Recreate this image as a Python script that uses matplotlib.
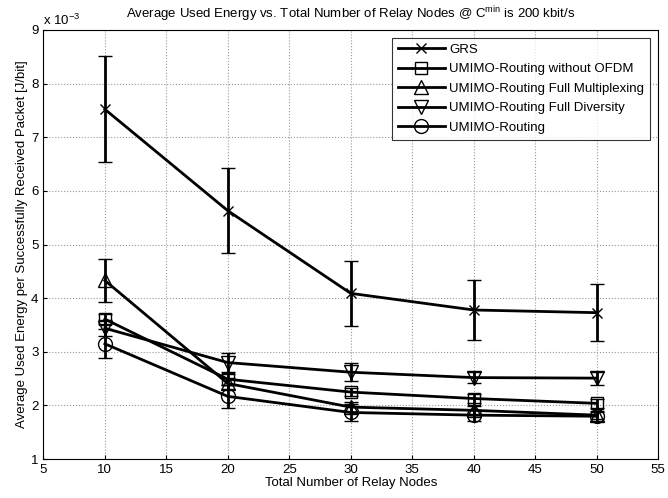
import numpy as np
import matplotlib
matplotlib.use("Agg")
import matplotlib.pyplot as plt

plt.rcParams['font.family'] = ['Liberation Sans', 'DejaVu Sans']
plt.rcParams['mathtext.fontset'] = 'custom'
plt.rcParams['mathtext.rm'] = 'Liberation Sans'
plt.rcParams['mathtext.it'] = 'Liberation Sans'

# Data (energy in units of 1e-3 J/bit)
relay_nodes = [10, 20, 30, 40, 50]

grs = [7.52, 5.63, 4.09, 3.78, 3.73]
grs_err = [0.99, 0.79, 0.60, 0.56, 0.53]

no_ofdm = [3.61, 2.49, 2.25, 2.13, 2.04]
no_ofdm_err = [0.10, 0.10, 0.08, 0.08, 0.08]

full_mux = [4.33, 2.41, 1.97, 1.91, 1.82]
full_mux_err = [0.40, 0.10, 0.10, 0.08, 0.08]

full_div = [3.44, 2.80, 2.62, 2.52, 2.51]
full_div_err = [0.15, 0.17, 0.17, 0.10, 0.12]

umimo = [3.15, 2.17, 1.87, 1.82, 1.80]
umimo_err = [0.27, 0.22, 0.15, 0.10, 0.08]

series = [
    ('GRS', grs, grs_err, 'x', 7),
    ('UMIMO-Routing without OFDM', no_ofdm, no_ofdm_err, 's', 9),
    ('UMIMO-Routing Full Multiplexing', full_mux, full_mux_err, '^', 10),
    ('UMIMO-Routing Full Diversity', full_div, full_div_err, 'v', 10),
    ('UMIMO-Routing', umimo, umimo_err, 'o', 10),
]

fig = plt.figure(figsize=(6.68, 4.98), dpi=100)
ax = fig.add_axes([0.065, 0.078, 0.92, 0.862])

handles = []
for name, vals, err, mk, ms in series:
    cont = ax.errorbar(relay_nodes, vals, yerr=err, color='black', linewidth=2,
                       marker=mk, markersize=ms, markerfacecolor='none',
                       markeredgecolor='black', markeredgewidth=1.0,
                       elinewidth=2, capsize=5, capthick=2, label=name)
    handles.append(cont.lines[0])

ax.set_xlim(5, 55)
ax.set_ylim(1, 9)
ax.set_xticks(np.arange(5, 56, 5))
ax.set_yticks(np.arange(1, 10, 1))
ax.tick_params(labelsize=9.5, direction='in', length=3)
ax.grid(True, linestyle=':', color='#999999', linewidth=0.8)

ax.set_xlabel('Total Number of Relay Nodes', fontsize=9.5, labelpad=1)
ax.set_ylabel('Average Used Energy per Successfully Received Packet [J/bit]',
              fontsize=9.5, labelpad=2)
ax.set_title('Average Used Energy vs. Total Number of Relay Nodes @ C$^{\\mathrm{min}}$ is 200 kbit/s',
             fontsize=9.5, pad=8)
ax.text(0.0, 1.005, 'x 10$^{-3}$', transform=ax.transAxes, fontsize=9.5,
        ha='left', va='bottom')

leg = ax.legend(handles, [s[0] for s in series], loc='upper right',
                fontsize=9.5, frameon=True, fancybox=False,
                borderaxespad=0.6, handlelength=3.6, labelspacing=0.55,
                borderpad=0.45, handletextpad=0.3)
leg.get_frame().set_edgecolor('black')
leg.get_frame().set_linewidth(0.8)

plt.savefig('out.png', dpi=100)
plt.close()
